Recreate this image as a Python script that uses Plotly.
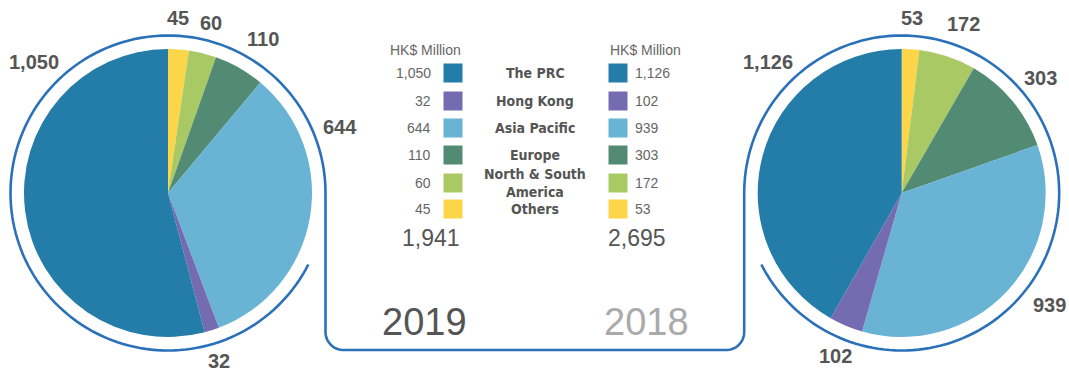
import numpy as np
import plotly.graph_objects as go

# ---- data -------------------------------------------------------------
regions = ["The PRC", "Hong Kong", "Asia Pacific", "Europe",
           "North &amp; South<br>America", "Others"]
values_2019 = [1050, 32, 644, 110, 60, 45]
values_2018 = [1126, 102, 939, 303, 172, 53]
total_2019 = "1,941"
total_2018 = "2,695"
years = ["2019", "2018"]
unit_label = "HK$ Million"

# ---- styling ----------------------------------------------------------
colors = ["#247ca8", "#756bb0", "#69b3d4", "#528a74", "#a8c964", "#fcd548"]
ring_color = "#2a71b9"
text_dark = "#555555"
text_mid = "#666666"
W, H = 1069, 372
cond_font = "Liberation Sans Narrow, DejaVu Sans Condensed, Liberation Sans, sans-serif"
reg_font = "Liberation Sans, Arial, Helvetica, sans-serif"

# pie geometry (pixels)
pie_r = 144
left_c = (168, 193)
right_c = (901.7, 193)
ring_r = 157.5


def px_domain(c, r):
    return dict(x=[(c[0] - r) / W, (c[0] + r) / W],
                y=[1 - (c[1] + r) / H, 1 - (c[1] - r) / H])


def fmt(v):
    return f"{v:,}"


fig = go.Figure()

# slices run clockwise from 12 o'clock: Others first, The PRC last
order = list(range(len(regions)))[::-1]
for vals, c in ((values_2019, left_c), (values_2018, right_c)):
    fig.add_trace(go.Pie(
        values=[vals[i] for i in order],
        labels=[regions[i].replace("<br>", " ").replace("&amp;", "&") for i in order],
        marker=dict(colors=[colors[i] for i in order], line=dict(width=0)),
        sort=False, direction="clockwise", rotation=0,
        textinfo="none", hoverinfo="label+value",
        domain=px_domain(c, pie_r), showlegend=False,
    ))

# hidden pixel-space axes for the frame, swatches and labels
fig.update_layout(
    xaxis=dict(range=[0, W], visible=False, fixedrange=True),
    yaxis=dict(range=[H, 0], visible=False, fixedrange=True),
)

# legend swatches (two columns, one row per region)
row_y = [73, 101, 128, 155, 183, 209]
for x_sw in (453, 618):
    fig.add_trace(go.Scatter(
        x=[x_sw] * len(regions), y=row_y, mode="markers",
        marker=dict(symbol="square", size=19, color=colors, line=dict(width=0)),
        hoverinfo="skip", showlegend=False,
    ))

# frame: left ring, connector box, right ring as one path
def arc(c, r, a0, a1, n=160):
    a = np.radians(np.linspace(a0, a1, n))
    return [(c[0] + r * np.cos(t), c[1] - r * np.sin(t)) for t in a]


corner = 18
xl = left_c[0] + ring_r
xr = right_c[0] - ring_r
yb = 350
pts = arc(left_c, ring_r, 333, 0)
pts += [(xl, yb - corner)]
pts += arc((xl + corner, yb - corner), corner, 180, 270, 20)
pts += [(xr - corner, yb)]
pts += arc((xr - corner, yb - corner), corner, 270, 360, 20)
pts += [(xr, right_c[1])]
pts += arc(right_c, ring_r, 180, -153)
path = "M " + " L ".join(f"{x:.2f},{y:.2f}" for x, y in pts)
fig.add_shape(type="path", path=path, xref="x", yref="y",
              line=dict(color=ring_color, width=2.6), layer="above")

ann = []


def text(x, y, s, size, color, family, xanchor="center", bold=False):
    ann.append(dict(x=x, y=y, xref="x", yref="y", text=f"<b>{s}</b>" if bold else s,
                    showarrow=False, xanchor=xanchor, yanchor="middle",
                    font=dict(size=size, color=color, family=family)))


# unit headers
text(425, 50, unit_label, 14, text_mid, reg_font)
text(645, 50, unit_label, 14, text_mid, reg_font)

# legend rows
for i, name in enumerate(regions):
    text(433, row_y[i], fmt(values_2019[i]), 14, text_mid, reg_font, xanchor="right")
    text(633, row_y[i], fmt(values_2018[i]), 14, text_mid, reg_font, xanchor="left")
    text(535, row_y[i], name, 14, text_dark, cond_font, bold=True)

# totals and years
text(431, 238, total_2019, 23, text_dark, reg_font)
text(637, 238, total_2018, 23, text_dark, reg_font)
text(424, 322, years[0], 38, text_dark, reg_font)
text(646, 322, years[1], 38, "#aaaaaa", reg_font)

# pie value labels
lbl_2019 = [(34, 62), (219, 361), (340, 127), (263, 39), (211, 23), (178, 18)]
lbl_2018 = [(768, 62), (835, 356), (1049, 305), (1040, 78), (963, 24), (912, 18)]
for vals, pos in ((values_2019, lbl_2019), (values_2018, lbl_2018)):
    for v, (x, y) in zip(vals, pos):
        text(x, y, fmt(v), 20, text_dark, reg_font, bold=True)

fig.update_layout(
    annotations=ann,
    width=W, height=H,
    margin=dict(l=0, r=0, t=0, b=0),
    paper_bgcolor="white", plot_bgcolor="white",
    showlegend=False,
)

fig.write_html("out.html", config={"displayModeBar": False})
